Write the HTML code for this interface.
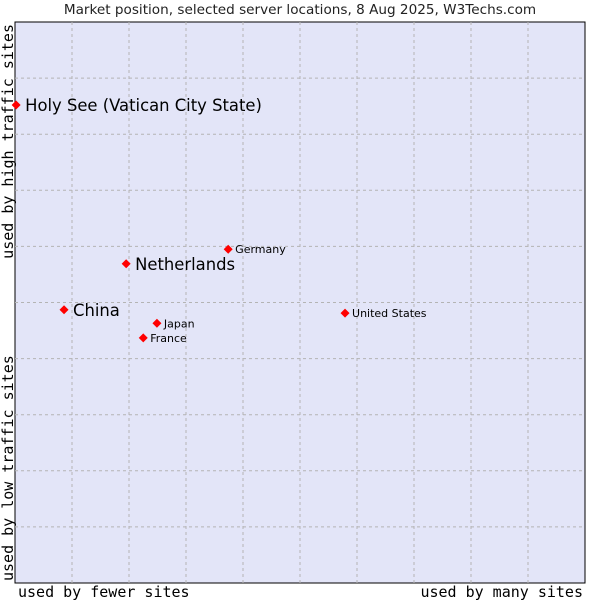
<!DOCTYPE html>
<html><head><meta charset="utf-8"><style>
body{margin:0;background:#fff;}
svg{display:block;font-family:"DejaVu Sans","Liberation Sans",sans-serif;}
</style></head><body>
<svg id="c" width="600" height="600">
<text x="300" y="14" text-anchor="middle" font-size="13.6" fill="#222">Market position, selected server locations, 8 Aug 2025, W3Techs.com</text>
<rect x="15" y="22" width="570" height="561" fill="#e3e5f8" stroke="#000" stroke-width="1"/>
<g id="grid"></g>
<g id="pts"></g>
<text x="18" y="597" font-family="DejaVu Sans Mono, Liberation Mono, monospace" font-size="15" fill="#000">used by fewer sites</text>
<text x="583" y="597" text-anchor="end" font-family="DejaVu Sans Mono, Liberation Mono, monospace" font-size="15" fill="#000">used by many sites</text>
<text transform="translate(13,581) rotate(-90)" font-family="DejaVu Sans Mono, Liberation Mono, monospace" font-size="15" fill="#000">used by low traffic sites</text>
<text transform="translate(13,24) rotate(-90)" text-anchor="end" font-family="DejaVu Sans Mono, Liberation Mono, monospace" font-size="15" fill="#000">used by high traffic sites</text>
</svg>
<script>
const names=["Holy See (Vatican City State)","Netherlands","China","Germany","Japan","France","United States"];
const xVals=[0.2,19.5,8.6,37.4,24.9,22.5,57.9];
const yVals=[85.2,56.9,48.7,59.5,46.3,43.7,48.1];
const big=[true,true,true,false,false,false,false];
const L=15,T=22,W=570,H=561;
const sx=v=>L+v/100*W, sy=v=>T+H-v/100*H;
const ns="http://www.w3.org/2000/svg";
const g=document.getElementById('grid');
for(let i=1;i<10;i++){
  let a=document.createElementNS(ns,'line');
  
  
  a.setAttribute('x1',sx(i*10));a.setAttribute('x2',sx(i*10));a.setAttribute('y1',T);a.setAttribute('y2',T+H);
  a.setAttribute('stroke','#b4b4b4');a.setAttribute('stroke-dasharray','3,3');g.appendChild(a);
  let b=document.createElementNS(ns,'line');
  
  
  b.setAttribute('y1',sy(i*10));b.setAttribute('y2',sy(i*10));b.setAttribute('x1',L);b.setAttribute('x2',L+W);
  b.setAttribute('stroke','#b4b4b4');b.setAttribute('stroke-dasharray','3,3');g.appendChild(b);
}
const p=document.getElementById('pts');
names.forEach((n,i)=>{
  const x=sx(xVals[i]),y=sy(yVals[i]);
  let d=document.createElementNS(ns,'polygon');
  
  
  d.setAttribute('points',`${x},${y-4.5} ${x+4.5},${y} ${x},${y+4.5} ${x-4.5},${y}`);
  d.setAttribute('fill','#f00');p.appendChild(d);
  let t=document.createElementNS(ns,'text');
  
  
  t.setAttribute('x',x+(big[i]?9:7));t.setAttribute('y',y+(big[i]?6:4));
  t.setAttribute('font-size',big[i]?16.4:11);t.setAttribute('fill','#000');
  t.textContent=n;p.appendChild(t);
});
</script>
</body></html>
